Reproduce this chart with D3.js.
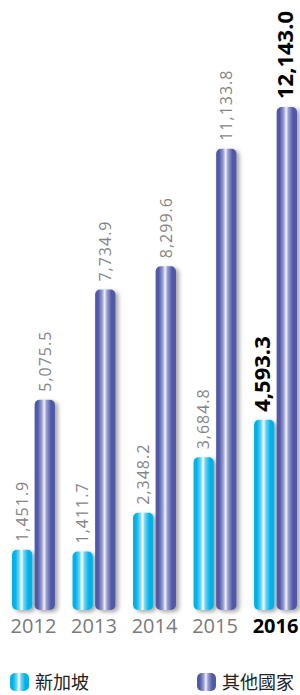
<!DOCTYPE html>
<html><head><meta charset="utf-8">
<script src="https://cdn.jsdelivr.net/npm/d3@7"></script>
<style>html,body{margin:0;padding:0;background:#fff;}svg{display:block;}</style>
</head><body>
<script>
const years = ["2012","2013","2014","2015","2016"];
const singapore = [1451.9, 1411.7, 2348.2, 3684.8, 4593.3];
const others = [5075.5, 7734.9, 8299.6, 11133.8, 12143.0];
const seriesNames = ["新加坡","其他國家"];
const highlightYear = "2016";

const W = 300, H = 695;
const svg = d3.select("body").append("svg").attr("width", W).attr("height", H);
const defs = svg.append("defs");

function grad(id, edge, mid, center){
  const g = defs.append("linearGradient").attr("id", id).attr("x1","0").attr("x2","1").attr("y1","0").attr("y2","0");
  [[0,edge],[0.15,edge],[0.35,mid],[0.47,center],[0.58,mid],[0.8,edge],[1,edge]].forEach(s=>
    g.append("stop").attr("offset", s[0]).attr("stop-color", s[1]));
}
grad("gSg", "#00b2e8", "#6fd5f4", "#ffffff");
grad("gOt", "#5159a8", "#9aa0d0", "#f2f2fa");
const f = defs.append("filter").attr("id","sh").attr("x","-30%").attr("y","-10%").attr("width","180%").attr("height","130%");
f.append("feDropShadow").attr("dx",3).attr("dy",2).attr("stdDeviation",2.2).attr("flood-color","#000").attr("flood-opacity",0.35);

const baseY = 610;
const y = d3.scaleLinear().domain([0, 12143]).range([baseY, 107]);
const x = d3.scaleBand().domain(years).range([12, 297]).paddingInner(0.29).paddingOuter(0);
const xs = d3.scaleBand().domain(seriesNames).range([0, x.bandwidth()]).paddingInner(0.1);

const data = [];
years.forEach((yr,i)=>{
  data.push({year:yr, s:seriesNames[0], v:singapore[i], fill:"url(#gSg)"});
  data.push({year:yr, s:seriesNames[1], v:others[i], fill:"url(#gOt)"});
});

const fmt = d3.format(",.1f");
const font = "'Open Sans', 'Noto Sans', sans-serif";

svg.append("g").selectAll("rect").data(data).join("rect")
  .attr("x", d=>x(d.year)+xs(d.s))
  .attr("y", d=>y(d.v))
  .attr("width", xs.bandwidth())
  .attr("height", d=>baseY - y(d.v))
  .attr("rx", 5).attr("ry", 5)
  .attr("fill", d=>d.fill)
  .attr("filter","url(#sh)");

svg.append("g").selectAll("text").data(data).join("text")
  .attr("transform", d=>{
    const cx = x(d.year)+xs(d.s)+xs.bandwidth()/2;
    return `translate(${cx},${y(d.v)-8}) rotate(-90)`;
  })
  .attr("dy", d=>d.year===highlightYear?"0.28em":"0.36em")
  .attr("font-family", font)
  .attr("font-size", d=>d.year===highlightYear?22:16)
  .attr("font-weight", d=>d.year===highlightYear?"bold":"normal")
  .attr("letter-spacing", d=>d.year===highlightYear?0:1)
  .attr("fill", d=>d.year===highlightYear?"#000":"#858585")
  .text(d=>fmt(d.v));

// x axis labels
const ax = svg.append("g").attr("transform", `translate(0,${baseY})`)
  .call(d3.axisBottom(x).tickSize(0).tickPadding(4));
ax.select(".domain").remove();
ax.selectAll("text")
  .attr("font-family", font)
  .attr("font-size", 20)
  .attr("dy","0.95em")
  .attr("font-weight", d=>d===highlightYear?"bold":"normal")
  .attr("fill", d=>d===highlightYear?"#000":"#7a7a7a");

// legend
const legend = [{name:seriesNames[0], fill:"url(#gSg)", x:10},{name:seriesNames[1], fill:"url(#gOt)", x:197}];
const lg = svg.append("g").selectAll("g").data(legend).join("g")
  .attr("transform", d=>`translate(${d.x},673)`);
lg.append("rect").attr("width",19).attr("height",18).attr("rx",5).attr("fill",d=>d.fill);
lg.append("text").attr("x",25).attr("y",16)
  .attr("font-family","'Noto Sans CJK TC', sans-serif")
  .attr("font-size",18).attr("fill","#222")
  .text(d=>d.name);
</script>
</body></html>
